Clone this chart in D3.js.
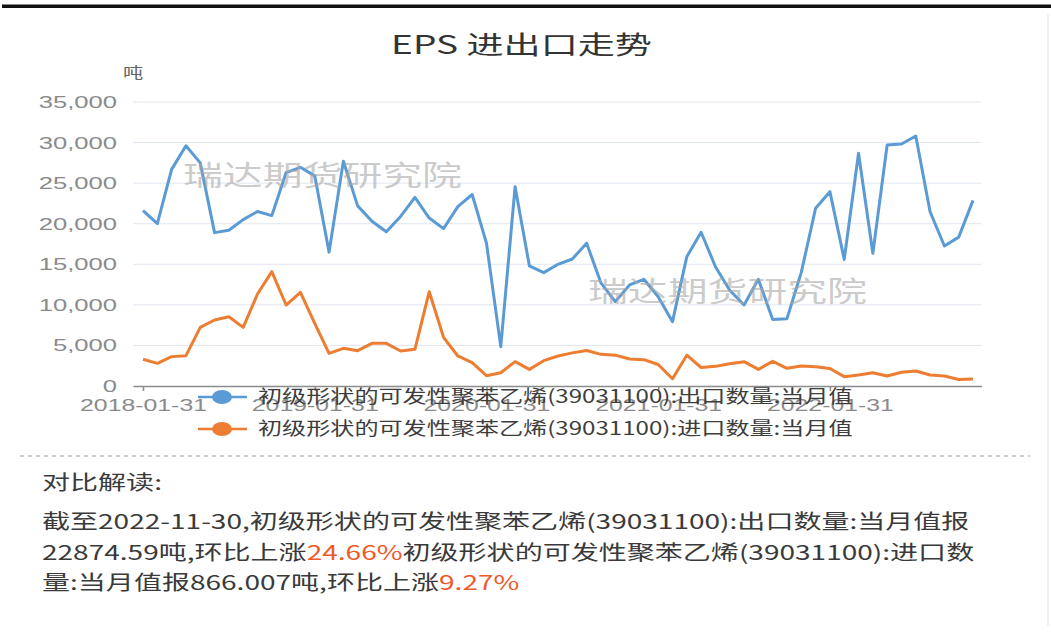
<!DOCTYPE html>
<html>
<head>
<meta charset="utf-8">
<script src="https://cdn.jsdelivr.net/npm/d3@7"></script>
<style>
  html, body { margin: 0; padding: 0; background: #fff; }
  svg { display: block; font-family: "Liberation Sans", "Noto Sans CJK SC", sans-serif; }
</style>
</head>
<body>
<div id="chart"></div>
<script>
// Monthly data, 2018-01-31 ... 2022-11-30 (59 months)
const exportTons = [
    21600, 20000, 26700, 29600, 27500, 18900, 19200, 20500, 21500, 21000, 26300, 26950,
    25900, 16500, 27700, 22200, 20300, 19000, 20900, 23250, 20700, 19400, 22100, 23600,
    17600, 4850, 24550, 14800, 13970, 15000, 15650, 17600, 12700, 10400, 12450, 13150,
    11000, 7930, 15940, 18950, 14700, 11800, 9980, 13150, 8200, 8300, 14000, 21900,
    23950, 15600, 28680, 16350, 29700, 29820, 30810, 21480, 17250, 18350, 22874.59
];
const importTons = [
    3290, 2790, 3620, 3740, 7230, 8130, 8540, 7230, 11340, 14090, 9980, 11540,
    7720, 4030, 4640, 4350, 5260, 5260, 4310, 4520, 11620, 6000, 3700, 2870,
    1270, 1640, 3000, 2050, 3120, 3700, 4080, 4380, 3900, 3800, 3330, 3250,
    2650, 900, 3800, 2280, 2420, 2750, 3000, 2050, 3040, 2180, 2460, 2380,
    2160, 1150, 1360, 1640, 1230, 1690, 1850, 1360, 1230, 792.5, 866.007
];
const tickIndex = [0, 12, 24, 36, 48];
const tickLabels = ['2018-01-31', '2019-01-31', '2020-01-31', '2021-01-31', '2022-01-31'];
const yTicks = [0, 5000, 10000, 15000, 20000, 25000, 30000, 35000];
const seriesNames = [
    '初级形状的可发性聚苯乙烯(39031100):出口数量:当月值',
    '初级形状的可发性聚苯乙烯(39031100):进口数量:当月值'
];
const seriesColors = ['#5b9bd5', '#ed7d31'];
const titleText = 'EPS 进出口走势';
const unitText = '吨';
const watermark = '瑞达期货研究院';

const W = 1051, H = 638;
const svg = d3.select('#chart').append('svg').attr('width', W).attr('height', H);

// stretch a text horizontally so that it spans `target` px, return the factor
function fitWidth(sel, target) {
    const w = sel.node().getComputedTextLength();
    const k = target / w;
    sel.attr('transform', `scale(${k},1)`);
    return k;
}

// frame bits
svg.append('rect').attr('x', 2).attr('y', 4.5).attr('width', W - 2).attr('height', 3.5).attr('fill', '#111');
svg.append('line').attr('x1', 1048).attr('x2', 1048).attr('y1', 14).attr('y2', 626)
    .attr('stroke', '#e2e2e2').attr('stroke-width', 1);

// title
const tg = svg.append('g').attr('transform', 'translate(521.5,54)');
fitWidth(tg.append('text').attr('text-anchor', 'middle').attr('font-size', 25)
    .attr('font-family', 'Noto Sans CJK SC').attr('fill', '#333').text(titleText), 261);

// scales
const x = d3.scaleLinear().domain([-0.7, 58.6]).range([133, 981.6]);
const y = d3.scaleLinear().domain([0, 35000]).range([386, 102]);

// grid
svg.append('g').selectAll('line').data(yTicks.filter(d => d > 0)).join('line')
    .attr('x1', x.range()[0]).attr('x2', x.range()[1])
    .attr('y1', d => y(d)).attr('y2', d => y(d))
    .attr('stroke', '#e0e6f1').attr('stroke-width', 1);

// y axis labels
const yAxis = svg.append('g').attr('transform', 'translate(133,0)')
    .call(d3.axisLeft(y).tickValues(yTicks).tickSize(0).tickFormat(d3.format(',')));
yAxis.select('.domain').remove();
yAxis.selectAll('text')
    .attr('x', 0).attr('dy', '0.34em')
    .attr('font-size', 16).attr('fill', '#8a8a8a')
    .attr('font-family', 'Liberation Sans')
    .attr('transform', 'translate(-16,0) scale(1.6,1)');

// unit
svg.append('text').attr('transform', 'translate(133,73) scale(1.35,1)')
    .attr('text-anchor', 'middle').attr('dy', '0.35em')
    .attr('font-size', 15).attr('fill', '#666').attr('font-family', 'Noto Sans CJK SC')
    .text(unitText);

// x axis
const xAxis = svg.append('g').attr('transform', `translate(0,${y(0)})`)
    .call(d3.axisBottom(x).tickValues(tickIndex).tickFormat((d, i) => tickLabels[i])
        .tickSize(5).tickSizeOuter(0));
xAxis.select('.domain').attr('stroke', '#8c8c8c').attr('stroke-width', 1.5);
xAxis.selectAll('.tick line').attr('stroke', '#8c8c8c').attr('stroke-width', 1.5);
xAxis.selectAll('text')
    .attr('y', 19).attr('dy', '0.34em')
    .attr('font-size', 17).attr('fill', '#8a8a8a')
    .attr('font-family', 'Liberation Sans')
    .attr('transform', 'scale(1.46,1)');

// series
const line = d3.line().x((d, i) => x(i)).y(d => y(d));
[exportTons, importTons].forEach((data, s) => {
    svg.append('path').datum(data)
        .attr('fill', 'none')
        .attr('stroke', seriesColors[s])
        .attr('stroke-width', 3)
        .attr('stroke-linejoin', 'round')
        .attr('d', line);
});

// watermarks
[[183, 186], [588, 302]].forEach(([wx, wy]) => {
    const g = svg.append('g').attr('transform', `translate(${wx},${wy})`);
    fitWidth(g.append('text').attr('font-size', 28).attr('font-family', 'Noto Sans CJK SC')
        .attr('fill', '#a8a8a8').attr('fill-opacity', 0.6).text(watermark), 279);
});

// legend
let legendK = null;
seriesNames.forEach((name, i) => {
    const ly = 397 + i * 32;
    const g = svg.append('g').attr('transform', `translate(0,${ly})`);
    g.append('line').attr('x1', 198).attr('x2', 247)
        .attr('stroke', seriesColors[i]).attr('stroke-width', 2.5);
    g.append('ellipse').attr('cx', 222).attr('cy', 0).attr('rx', 10).attr('ry', 7)
        .attr('fill', seriesColors[i]);
    const tgp = g.append('g').attr('transform', 'translate(258,0)');
    const t = tgp.append('text').attr('dy', '0.36em').attr('font-size', 18)
        .attr('font-family', 'Noto Sans CJK SC').attr('fill', '#3d3d3d').text(name);
    if (legendK === null) legendK = fitWidth(t, 595);
    else t.attr('transform', `scale(${legendK},1)`);
});

// dashed separator
svg.append('line').attr('x1', 20).attr('x2', 1030).attr('y1', 456).attr('y2', 456)
    .attr('stroke', '#9a9a9a').attr('stroke-width', 1).attr('stroke-dasharray', '4,4');

// commentary
const red = '#f05a2a';
const lines = [
    [['对比解读:', null]],
    [['截至2022-11-30,初级形状的可发性聚苯乙烯(39031100):出口数量:当月值报', null]],
    [['22874.59吨,环比上涨', null], ['24.66%', red], ['初级形状的可发性聚苯乙烯(39031100):进口数', null]],
    [['量:当月值报866.007吨,环比上涨', null], ['9.27%', red]]
];
const lineY = [483, 522, 553, 583];
const texts = lines.map((parts, i) => {
    const g = svg.append('g').attr('transform', `translate(42,${lineY[i]})`);
    const t = g.append('text').attr('dy', '0.36em').attr('font-size', 20)
        .attr('font-family', 'Noto Sans CJK SC').attr('fill', '#3a3a3a');
    parts.forEach(([s, c]) => {
        const sp = t.append('tspan').text(s);
        if (c) sp.attr('fill', c);
    });
    return t;
});
const bodyK = fitWidth(texts[1], 928);
[0, 2, 3].forEach(i => texts[i].attr('transform', `scale(${bodyK},1)`));
</script>
</body>
</html>
